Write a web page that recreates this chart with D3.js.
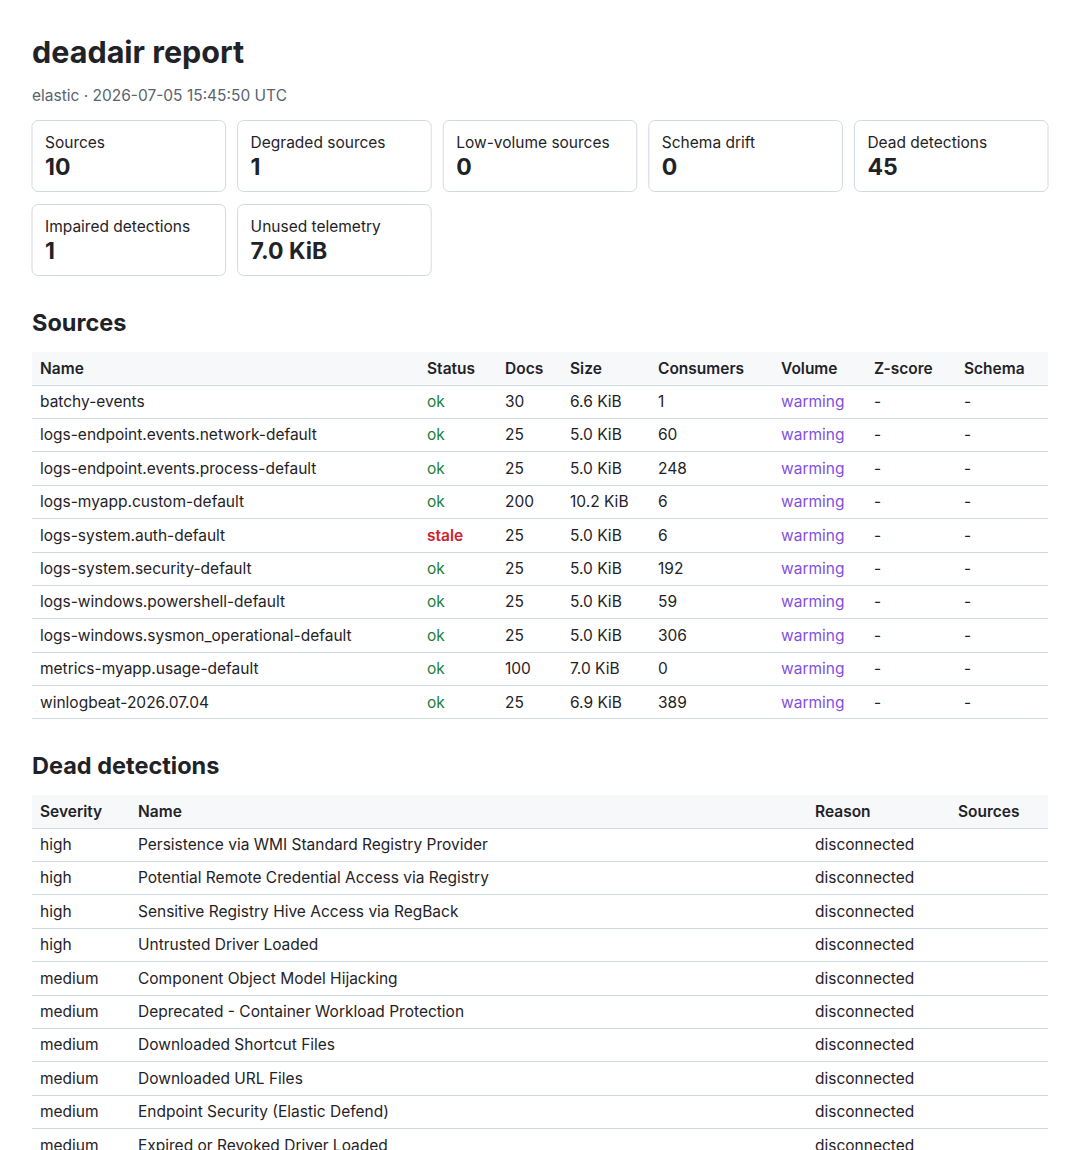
<!DOCTYPE html>
<html>
<head>
<meta charset="utf-8">
<title>deadair report</title>
<script src="https://cdn.jsdelivr.net/npm/d3@7"></script>
<style>
    html, body { margin: 0; padding: 0; background: #ffffff; }
    svg text { font-family: Inter, "Noto Sans", "DejaVu Sans", sans-serif; fill: #1f2328; }
</style>
</head>
<body>
<div id="report"></div>
<script>
// ---- Data ----
var reportTitle = "deadair report";
var reportSubtitle = "elastic \u00b7 2026-07-05 15:45:50 UTC";

var cardLabels = ["Sources", "Degraded sources", "Low-volume sources", "Schema drift", "Dead detections",
    "Impaired detections", "Unused telemetry"];
var cardValues = ["10", "1", "0", "0", "45", "1", "7.0 KiB"];

var sourceColumns = ["Name", "Status", "Docs", "Size", "Consumers", "Volume", "Z-score", "Schema"];
var sourceNames = ["batchy-events", "logs-endpoint.events.network-default", "logs-endpoint.events.process-default",
    "logs-myapp.custom-default", "logs-system.auth-default", "logs-system.security-default",
    "logs-windows.powershell-default", "logs-windows.sysmon_operational-default",
    "metrics-myapp.usage-default", "winlogbeat-2026.07.04"];
var sourceStatus = ["ok", "ok", "ok", "ok", "stale", "ok", "ok", "ok", "ok", "ok"];
var sourceDocs = [30, 25, 25, 200, 25, 25, 25, 25, 100, 25];
var sourceSizes = ["6.6 KiB", "5.0 KiB", "5.0 KiB", "10.2 KiB", "5.0 KiB", "5.0 KiB", "5.0 KiB", "5.0 KiB", "7.0 KiB", "6.9 KiB"];
var sourceConsumers = [1, 60, 248, 6, 6, 192, 59, 306, 0, 389];
var sourceVolume = ["warming", "warming", "warming", "warming", "warming", "warming", "warming", "warming", "warming", "warming"];
var sourceZscore = ["-", "-", "-", "-", "-", "-", "-", "-", "-", "-"];
var sourceSchema = ["-", "-", "-", "-", "-", "-", "-", "-", "-", "-"];

var detectionColumns = ["Severity", "Name", "Reason", "Sources"];
var detectionSeverity = ["high", "high", "high", "high", "medium", "medium", "medium", "medium", "medium", "medium"];
var detectionNames = ["Persistence via WMI Standard Registry Provider", "Potential Remote Credential Access via Registry",
    "Sensitive Registry Hive Access via RegBack", "Untrusted Driver Loaded", "Component Object Model Hijacking",
    "Deprecated - Container Workload Protection", "Downloaded Shortcut Files", "Downloaded URL Files",
    "Endpoint Security (Elastic Defend)", "Expired or Revoked Driver Loaded"];
var detectionReasons = ["disconnected", "disconnected", "disconnected", "disconnected", "disconnected",
    "disconnected", "disconnected", "disconnected", "disconnected", "disconnected"];
var detectionSources = ["", "", "", "", "", "", "", "", "", ""];

// ---- Page layout ----
var W = 1080, H = 1150;
var left = 32, right = 1048;
var lineColor = "#d1d9e0";
var statusColor = { ok: "#1a7f37", stale: "#cf222e" };

var svg = d3.select("#report").append("svg")
    .attr("width", W)
    .attr("height", H);

// Title + subtitle
svg.append("text")
    .attr("x", left).attr("y", 63)
    .style("font-size", "30.5px").style("font-weight", 700)
    .text(reportTitle);

svg.append("text")
    .attr("x", left).attr("y", 101)
    .style("font-size", "15.5px")
    .style("fill", "#59636e")
    .text(reportSubtitle);

// ---- Summary cards ----
var cardCol = d3.scaleBand().domain(d3.range(5)).range([left, right]).paddingInner(12 / 205.6);
var cardRow = d3.scaleOrdinal().domain([0, 1]).range([120.5, 204.5]);

var cards = svg.selectAll(".card")
    .data(cardLabels.map(function(l, i) { return { label: l, value: cardValues[i], i: i }; }))
    .join("g")
    .attr("class", "card")
    .attr("transform", function(d) {
        return "translate(" + cardCol(d.i % 5) + "," + cardRow(Math.floor(d.i / 5)) + ")";
    });

cards.append("rect")
    .attr("width", cardCol.bandwidth())
    .attr("height", 71)
    .attr("rx", 6)
    .attr("fill", "#ffffff")
    .attr("stroke", lineColor);

cards.append("text")
    .attr("x", 13).attr("y", 27.5)
    .style("font-size", "15.5px")
    .text(function(d) { return d.label; });

cards.append("text")
    .attr("x", 13).attr("y", 54)
    .style("font-size", "23px").style("font-weight", 700)
    .text(function(d) { return d.value; });

// ---- Generic table drawer ----
function drawTable(top, title, columns, colX, rows, cellStyle) {
    var headTop = top + 30, headH = 32.5, rowH = 33.4;

    svg.append("text")
        .attr("x", left).attr("y", top + 9)
        .style("font-size", "23.5px").style("font-weight", 700)
        .text(title);

    var x = d3.scaleOrdinal().domain(columns).range(colX);
    var y = d3.scaleBand()
        .domain(d3.range(rows.length))
        .range([headTop + headH, headTop + headH + rows.length * rowH]);

    svg.append("rect")
        .attr("x", left).attr("y", headTop)
        .attr("width", right - left).attr("height", headH)
        .attr("fill", "#f6f8fa");

    svg.selectAll(null)
        .data(columns)
        .enter().append("text")
        .attr("x", function(d) { return x(d); })
        .attr("y", headTop + 21.5)
        .style("font-size", "15.5px").style("font-weight", 600)
        .text(function(d) { return d; });

    // row separators (header bottom + each row bottom)
    svg.selectAll(null)
        .data([headTop + headH].concat(rows.map(function(r, i) { return y(i) + y.bandwidth(); })))
        .enter().append("line")
        .attr("x1", left).attr("x2", right)
        .attr("y1", function(d) { return Math.round(d) + 0.5; })
        .attr("y2", function(d) { return Math.round(d) + 0.5; })
        .attr("stroke", lineColor);

    var rowG = svg.selectAll(null)
        .data(rows)
        .enter().append("g")
        .attr("transform", function(d, i) { return "translate(0," + y(i) + ")"; });

    rowG.selectAll("text")
        .data(function(r) { return columns.map(function(c, j) { return { col: c, value: r[j] }; }); })
        .join("text")
        .attr("x", function(d) { return x(d.col); })
        .attr("y", 22.5)
        .style("font-size", "15.5px")
        .each(function(d) { if (cellStyle) cellStyle(d3.select(this), d); })
        .text(function(d) { return d.value; });
}

// ---- Sources table ----
var sourceRows = sourceNames.map(function(n, i) {
    return [n, sourceStatus[i], sourceDocs[i], sourceSizes[i], sourceConsumers[i],
        sourceVolume[i], sourceZscore[i], sourceSchema[i]];
});

drawTable(322, "Sources", sourceColumns, [40, 427, 505, 570, 658, 781, 874, 964], sourceRows,
    function(sel, d) {
        if (d.col === "Status") {
            sel.style("fill", statusColor[d.value]);
            if (d.value !== "ok") sel.style("font-weight", 600);
        }
        if (d.col === "Volume") sel.style("fill", "#8250df");
    });

// ---- Dead detections table ----
var detectionRows = detectionNames.map(function(n, i) {
    return [detectionSeverity[i], n, detectionReasons[i], detectionSources[i]];
});

drawTable(765, "Dead detections", detectionColumns, [40, 138, 815, 958], detectionRows);
</script>
</body>
</html>
